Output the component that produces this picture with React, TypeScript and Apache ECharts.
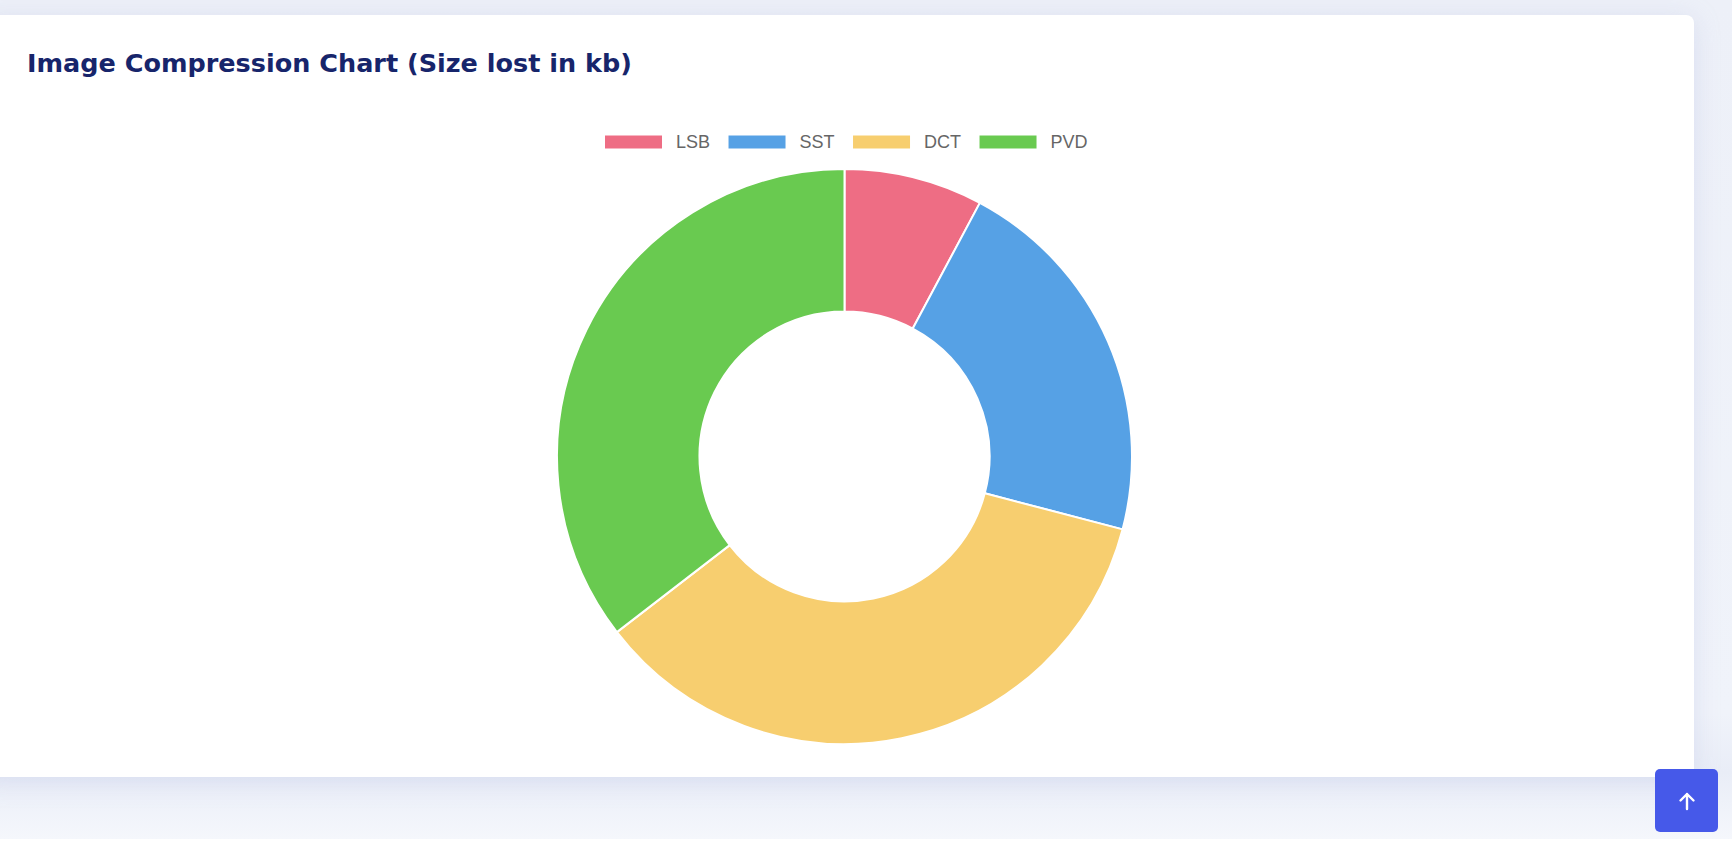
import React, { useEffect, useRef } from "react";
import * as echarts from "echarts";

const titleText = "Image Compression Chart (Size lost in kb)";
const categories = ["LSB", "SST", "DCT", "PVD"];
const sizeLost = [11, 30, 50, 50];
const colors = ["#ee6d84", "#56a1e5", "#f7ce6f", "#69ca50"];

export default function App() {
  const ref = useRef<HTMLDivElement>(null);

  useEffect(() => {
    if (!ref.current) return;
    const chart = echarts.init(ref.current, undefined, { renderer: "svg" });
    chart.setOption({
      animation: false,
      title: {
        text: titleText,
        left: 27,
        top: 45,
        padding: 0,
        textStyle: {
          fontFamily: "'DejaVu Sans', sans-serif",
          fontWeight: "bold",
          fontSize: 25.5,
          lineHeight: 36,
          color: "#17256b",
        },
      },
      legend: {
        data: categories,
        left: 603,
        top: 133,
        padding: 0,
        icon: "rect",
        itemWidth: 59,
        itemHeight: 15,
        itemGap: 16.5,
        textStyle: {
          fontFamily: "'Liberation Sans', Arial, sans-serif",
          fontSize: 18,
          lineHeight: 18,
          color: "#666666",
          padding: [0, 0, 0, 8],
        },
      },
      series: [
        {
          type: "pie",
          center: [844.5, 456.5],
          radius: [145, 287.5],
          startAngle: 90,
          clockwise: true,
          label: { show: false },
          labelLine: { show: false },
          itemStyle: { borderColor: "#ffffff", borderWidth: 2 },
          emphasis: { disabled: true },
          data: categories.map((name, i) => ({
            name,
            value: sizeLost[i],
            itemStyle: { color: colors[i] },
          })),
        },
      ],
    });
    return () => chart.dispose();
  }, []);

  return (
    <div
      style={{
        position: "fixed",
        left: 0,
        top: 0,
        width: 1732,
        height: 848,
        overflow: "hidden",
        background: "#ffffff",
      }}
    >
      <div
        style={{
          position: "absolute",
          left: 0,
          top: 0,
          width: 1732,
          height: 839,
          background: "linear-gradient(180deg, #edf0f8 0%, #f0f3fa 85%, #e9edf7 92%, #f5f7fc 100%)",
        }}
      />
      <div
        style={{
          position: "absolute",
          left: -20,
          top: 15,
          width: 1714,
          height: 762,
          background: "#ffffff",
          borderRadius: 8,
          boxShadow: "0 4px 24px rgba(180, 190, 225, 0.35)",
        }}
      />
      <div
        ref={ref}
        style={{ position: "absolute", left: 0, top: 0, width: 1732, height: 848 }}
      />
      <div
        style={{
          position: "absolute",
          left: 1655,
          top: 769,
          width: 63,
          height: 63,
          background: "#4659e9",
          borderRadius: 5,
          display: "flex",
          alignItems: "center",
          justifyContent: "center",
        }}
      >
        <svg width="24" height="24" viewBox="0 0 24 24">
          <path d="M12 20 V5 M5.5 11.5 L12 5 L18.5 11.5" stroke="#ffffff" strokeWidth="2.4" fill="none" strokeLinecap="round" strokeLinejoin="round" />
        </svg>
      </div>
    </div>
  );
}
